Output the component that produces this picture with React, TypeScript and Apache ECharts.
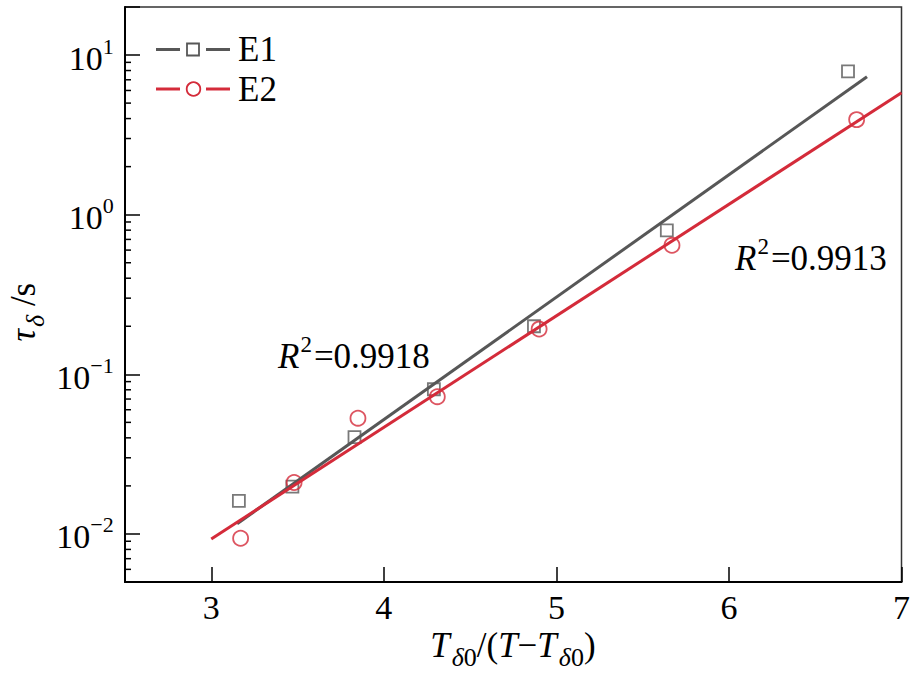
import React, { useEffect, useRef } from "react";
import * as echarts from "echarts";

const xE1 = [3.16, 3.47, 3.83, 4.29, 4.87, 5.64, 6.69];
const yE1 = [0.0161, 0.0198, 0.0404, 0.0806, 0.2, 0.798, 7.9];
const xE2 = [3.17, 3.48, 3.85, 4.31, 4.9, 5.67, 6.74];
const yE2 = [0.0094, 0.021, 0.0531, 0.0724, 0.192, 0.643, 3.94];
const fitE1X = [3.15, 6.8];
const fitE1Y = [0.0116, 7.31];
const fitE2X = [3.0, 7.0];
const fitE2Y = [0.0093, 5.81];
const yMinorTicks = [
  0.006, 0.007, 0.008, 0.009,
  0.02, 0.03, 0.04, 0.05, 0.06, 0.07, 0.08, 0.09,
  0.2, 0.3, 0.4, 0.5, 0.6, 0.7, 0.8, 0.9,
  2, 3, 4, 5, 6, 7, 8, 9,
];
const seriesNames = ["E1", "E2"];
const r2Values = ["0.9918", "0.9913"];

const SERIF = "Liberation Serif";
const GRAY = "#575757";
const RED = "#d42b3a";

export default function App() {
  const ref = useRef<HTMLDivElement>(null);
  useEffect(() => {
    if (!ref.current) return;
    const chart = echarts.init(ref.current, null, { renderer: "svg" });
    const base = { fontFamily: SERIF, color: "#000" };
    const supRich = {
      b: { ...base, fontSize: 34, lineHeight: 34, verticalAlign: "bottom" },
      s: { ...base, fontSize: 22, lineHeight: 22, verticalAlign: "top" },
      h: { ...base, fontSize: 1, lineHeight: 40 },
    };
    const r2Rich = {
      b: { ...base, fontSize: 35, lineHeight: 35, verticalAlign: "bottom" },
      i: { ...base, fontSize: 35, lineHeight: 35, verticalAlign: "bottom", fontStyle: "italic" },
      s: { ...base, fontSize: 23, lineHeight: 23, verticalAlign: "top", padding: [0, 2, 0, 1] },
      h: { ...base, fontSize: 1, lineHeight: 41 },
    };
    const subRich = {
      n: { ...base, fontSize: 35, lineHeight: 35, verticalAlign: "top" },
      i: { ...base, fontSize: 35, lineHeight: 35, verticalAlign: "top", fontStyle: "italic" },
      si: { ...base, fontSize: 26, lineHeight: 26, verticalAlign: "bottom", fontStyle: "italic", padding: [0, 0, 0, 2] },
      sn: { ...base, fontSize: 26, lineHeight: 26, verticalAlign: "bottom" },
      h: { ...base, fontSize: 1, lineHeight: 42 },
    };
    const r2Text = (v: string) => `{i|R}{s|2}{b|=${v}}{h| }`;
    chart.setOption({
      animation: false,
      grid: {
        left: 125,
        right: 7,
        top: 7,
        bottom: 92,
        show: true,
        borderColor: "#333",
        borderWidth: 1.5,
        containLabel: false,
      },
      xAxis: {
        type: "value",
        min: 2.5,
        max: 7,
        splitLine: { show: false },
        axisLine: { lineStyle: { color: "#000", width: 2 } },
        axisTick: { inside: true, length: 15, lineStyle: { color: "#000", width: 1.5 } },
        axisLabel: {
          fontFamily: SERIF,
          fontSize: 34,
          color: "#000",
          margin: 8,
          formatter: (v: number) => (Math.abs(v - Math.round(v)) < 1e-9 ? String(Math.round(v)) : ""),
        },
      },
      yAxis: {
        type: "log",
        logBase: 10,
        min: 0.005,
        max: 20,
        splitLine: { show: false },
        axisLine: { lineStyle: { color: "#000", width: 2 } },
        axisTick: { inside: true, length: 15, lineStyle: { color: "#000", width: 1.5 } },
        axisLabel: {
          margin: 11,
          fontFamily: SERIF,
          rich: supRich,
          formatter: (v: number) => {
            const l = Math.log10(v);
            const e = Math.round(l);
            if (Math.abs(l - e) > 1e-6) return "";
            const es = e < 0 ? "\u2212" + -e : String(e);
            return `{b|10}{s|${es}}{h| }`;
          },
        },
      },
      series: [
        {
          type: "custom",
          silent: true,
          data: yMinorTicks.map((v) => [2.5, v]),
          renderItem: (params: any, api: any) => {
            const p = api.coord([api.value(0), api.value(1)]);
            return {
              type: "line",
              shape: { x1: p[0], y1: p[1], x2: p[0] + 6, y2: p[1] },
              style: { stroke: "#000", lineWidth: 1.5 },
            };
          },
          z: 1,
        },
        {
          name: seriesNames[0] + " fit",
          type: "line",
          data: fitE1X.map((x, i) => [x, fitE1Y[i]]),
          showSymbol: false,
          lineStyle: { color: GRAY, width: 3 },
          itemStyle: { color: GRAY },
        },
        {
          name: seriesNames[1] + " fit",
          type: "line",
          data: fitE2X.map((x, i) => [x, fitE2Y[i]]),
          showSymbol: false,
          lineStyle: { color: RED, width: 3 },
          itemStyle: { color: RED },
        },
        {
          name: seriesNames[0],
          type: "scatter",
          symbol: "rect",
          symbolSize: 12,
          data: xE1.map((x, i) => [x, yE1[i]]),
          itemStyle: { color: "rgba(0,0,0,0)", borderColor: GRAY, borderWidth: 1.8 },
        },
        {
          name: seriesNames[1],
          type: "scatter",
          symbol: "circle",
          symbolSize: 15,
          data: xE2.map((x, i) => [x, yE2[i]]),
          itemStyle: { color: "rgba(0,0,0,0)", borderColor: RED, borderWidth: 1.8 },
        },
      ],
      graphic: [
        { type: "line", shape: { x1: 156, y1: 49.5, x2: 180, y2: 49.5 }, style: { stroke: GRAY, lineWidth: 3 } },
        { type: "rect", shape: { x: 187, y: 43.5, width: 12, height: 12 }, style: { fill: "none", stroke: GRAY, lineWidth: 1.8 } },
        { type: "line", shape: { x1: 206, y1: 49.5, x2: 230, y2: 49.5 }, style: { stroke: GRAY, lineWidth: 3 } },
        { type: "text", x: 238, y: 49.5, style: { text: seriesNames[0], fontFamily: SERIF, fontSize: 35, fill: "#000", verticalAlign: "middle" } },
        { type: "line", shape: { x1: 156, y1: 89, x2: 180, y2: 89 }, style: { stroke: RED, lineWidth: 3 } },
        { type: "circle", shape: { cx: 193.5, cy: 89, r: 6.8 }, style: { fill: "none", stroke: RED, lineWidth: 1.8 } },
        { type: "line", shape: { x1: 206, y1: 89, x2: 230, y2: 89 }, style: { stroke: RED, lineWidth: 3 } },
        { type: "text", x: 238, y: 89, style: { text: seriesNames[1], fontFamily: SERIF, fontSize: 35, fill: "#000", verticalAlign: "middle" } },
        { type: "text", x: 278, y: 333, style: { text: r2Text(r2Values[0]), rich: r2Rich, fontFamily: SERIF, verticalAlign: "top", align: "left" } },
        { type: "text", x: 735, y: 235, style: { text: r2Text(r2Values[1]), rich: r2Rich, fontFamily: SERIF, verticalAlign: "top", align: "left" } },
        {
          type: "text",
          x: 513,
          y: 628,
          style: {
            text: "{i|T}{si|\u03b4}{sn|0}{n|/(}{i|T}{n|\u2212}{i|T}{si|\u03b4}{sn|0}{n|)}{h| }",
            rich: subRich,
            fontFamily: SERIF,
            align: "center",
            verticalAlign: "top",
          },
        },
        {
          type: "text",
          x: 27,
          y: 312,
          rotation: Math.PI / 2,
          style: {
            text: "{i|\u03c4}{si|\u03b4}{n| /s}{h| }",
            rich: subRich,
            fontFamily: SERIF,
            align: "center",
            verticalAlign: "middle",
          },
        },
      ],
    });
    return () => chart.dispose();
  }, []);
  return (
    <div
      ref={ref}
      style={{ position: "absolute", left: 0, top: 0, width: 913, height: 674, background: "#fff" }}
    />
  );
}
